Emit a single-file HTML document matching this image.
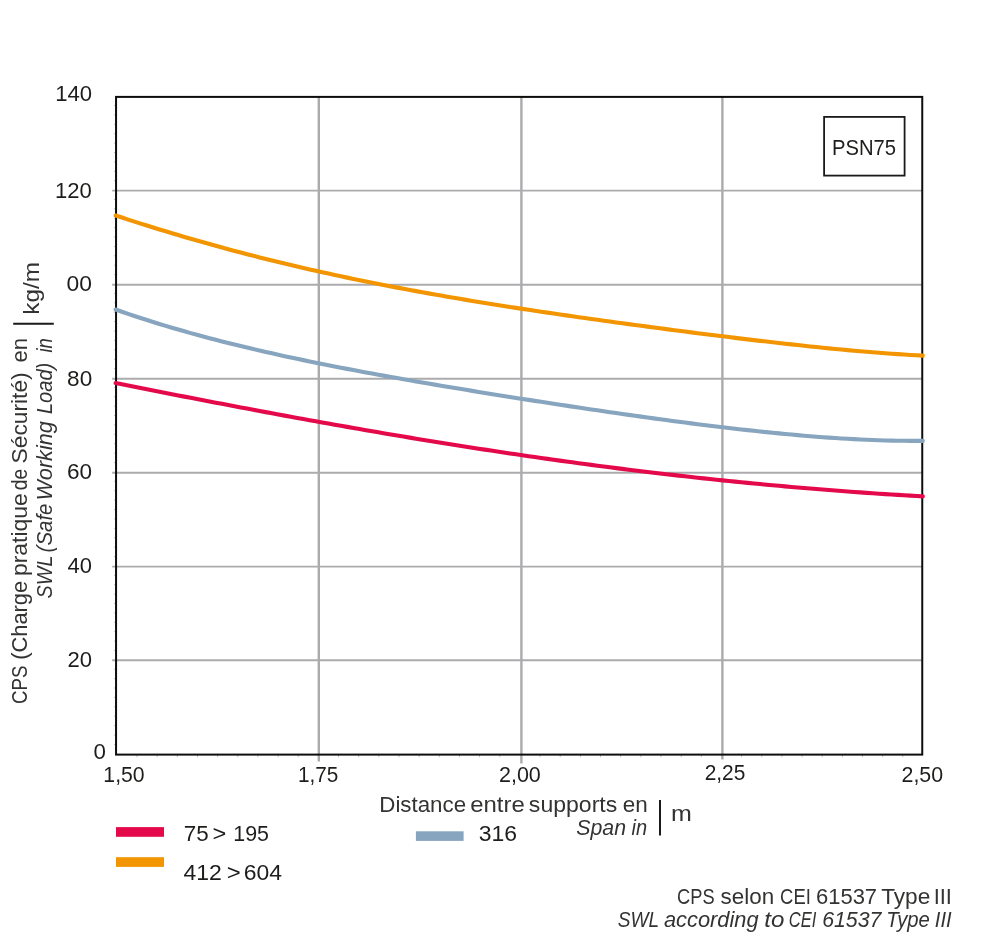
<!DOCTYPE html>
<html lang="fr"><head><meta charset="utf-8"><title>PSN75 - CPS selon CEI 61537</title>
<style>
html,body{margin:0;padding:0;background:#fff;}
body{width:1000px;height:945px;overflow:hidden;}
svg{display:block;}
text{font-family:"Liberation Sans",sans-serif;fill:#1d1d1b;}
.it{font-style:italic;}
.lt{fill:#333332;}
</style></head><body>
<svg width="1000" height="945" viewBox="0 0 1000 945">
<rect x="0" y="0" width="1000" height="945" fill="#ffffff"/>
<g stroke="#abaaad" fill="none">
<line x1="112.2" y1="660.3" x2="922.2" y2="660.3" stroke-width="1.9"/>
<line x1="112.2" y1="566.6" x2="922.2" y2="566.6" stroke-width="1.9"/>
<line x1="112.2" y1="472.7" x2="922.2" y2="472.7" stroke-width="1.9"/>
<line x1="112.2" y1="378.8" x2="922.2" y2="378.8" stroke-width="1.9"/>
<line x1="112.2" y1="284.8" x2="922.2" y2="284.8" stroke-width="1.9"/>
<line x1="112.2" y1="190.6" x2="922.2" y2="190.6" stroke-width="1.9"/>
<line x1="318.8" y1="96.9" x2="318.8" y2="761.4" stroke-width="2.4"/>
<line x1="521.4" y1="96.9" x2="521.4" y2="763.4" stroke-width="2.4"/>
<line x1="722.4" y1="96.9" x2="722.4" y2="759.6" stroke-width="2.4"/>
</g>
<g stroke="#9c9c9c" stroke-width="0.8" opacity="0.8">
<line x1="114" y1="744.4" x2="116" y2="744.4"/>
<line x1="114" y1="735.0" x2="116" y2="735.0"/>
<line x1="114" y1="725.6" x2="116" y2="725.6"/>
<line x1="114" y1="716.2" x2="116" y2="716.2"/>
<line x1="114" y1="706.8" x2="116" y2="706.8"/>
<line x1="114" y1="697.4" x2="116" y2="697.4"/>
<line x1="114" y1="688.0" x2="116" y2="688.0"/>
<line x1="114" y1="678.6" x2="116" y2="678.6"/>
<line x1="114" y1="669.2" x2="116" y2="669.2"/>
<line x1="114" y1="650.4" x2="116" y2="650.4"/>
<line x1="114" y1="641.1" x2="116" y2="641.1"/>
<line x1="114" y1="631.7" x2="116" y2="631.7"/>
<line x1="114" y1="622.3" x2="116" y2="622.3"/>
<line x1="114" y1="612.9" x2="116" y2="612.9"/>
<line x1="114" y1="603.5" x2="116" y2="603.5"/>
<line x1="114" y1="594.1" x2="116" y2="594.1"/>
<line x1="114" y1="584.7" x2="116" y2="584.7"/>
<line x1="114" y1="575.3" x2="116" y2="575.3"/>
<line x1="114" y1="556.5" x2="116" y2="556.5"/>
<line x1="114" y1="547.1" x2="116" y2="547.1"/>
<line x1="114" y1="537.7" x2="116" y2="537.7"/>
<line x1="114" y1="528.3" x2="116" y2="528.3"/>
<line x1="114" y1="518.9" x2="116" y2="518.9"/>
<line x1="114" y1="509.5" x2="116" y2="509.5"/>
<line x1="114" y1="500.1" x2="116" y2="500.1"/>
<line x1="114" y1="490.7" x2="116" y2="490.7"/>
<line x1="114" y1="481.3" x2="116" y2="481.3"/>
<line x1="114" y1="462.5" x2="116" y2="462.5"/>
<line x1="114" y1="453.1" x2="116" y2="453.1"/>
<line x1="114" y1="443.7" x2="116" y2="443.7"/>
<line x1="114" y1="434.3" x2="116" y2="434.3"/>
<line x1="114" y1="424.9" x2="116" y2="424.9"/>
<line x1="114" y1="415.6" x2="116" y2="415.6"/>
<line x1="114" y1="406.2" x2="116" y2="406.2"/>
<line x1="114" y1="396.8" x2="116" y2="396.8"/>
<line x1="114" y1="387.4" x2="116" y2="387.4"/>
<line x1="114" y1="368.6" x2="116" y2="368.6"/>
<line x1="114" y1="359.2" x2="116" y2="359.2"/>
<line x1="114" y1="349.8" x2="116" y2="349.8"/>
<line x1="114" y1="340.4" x2="116" y2="340.4"/>
<line x1="114" y1="331.0" x2="116" y2="331.0"/>
<line x1="114" y1="321.6" x2="116" y2="321.6"/>
<line x1="114" y1="312.2" x2="116" y2="312.2"/>
<line x1="114" y1="302.8" x2="116" y2="302.8"/>
<line x1="114" y1="293.4" x2="116" y2="293.4"/>
<line x1="114" y1="274.6" x2="116" y2="274.6"/>
<line x1="114" y1="265.2" x2="116" y2="265.2"/>
<line x1="114" y1="255.8" x2="116" y2="255.8"/>
<line x1="114" y1="246.4" x2="116" y2="246.4"/>
<line x1="114" y1="237.0" x2="116" y2="237.0"/>
<line x1="114" y1="227.6" x2="116" y2="227.6"/>
<line x1="114" y1="218.2" x2="116" y2="218.2"/>
<line x1="114" y1="208.8" x2="116" y2="208.8"/>
<line x1="114" y1="199.5" x2="116" y2="199.5"/>
<line x1="114" y1="180.7" x2="116" y2="180.7"/>
<line x1="114" y1="171.3" x2="116" y2="171.3"/>
<line x1="114" y1="161.9" x2="116" y2="161.9"/>
<line x1="114" y1="152.5" x2="116" y2="152.5"/>
<line x1="114" y1="143.1" x2="116" y2="143.1"/>
<line x1="114" y1="133.7" x2="116" y2="133.7"/>
<line x1="114" y1="124.3" x2="116" y2="124.3"/>
<line x1="114" y1="114.9" x2="116" y2="114.9"/>
<line x1="114" y1="105.5" x2="116" y2="105.5"/>
<line x1="137.0" y1="754.6" x2="137.0" y2="757.2"/>
<line x1="157.2" y1="754.6" x2="157.2" y2="757.2"/>
<line x1="177.3" y1="754.6" x2="177.3" y2="757.2"/>
<line x1="197.5" y1="754.6" x2="197.5" y2="757.2"/>
<line x1="217.6" y1="754.6" x2="217.6" y2="757.2"/>
<line x1="237.8" y1="754.6" x2="237.8" y2="757.2"/>
<line x1="257.9" y1="754.6" x2="257.9" y2="757.2"/>
<line x1="278.1" y1="754.6" x2="278.1" y2="757.2"/>
<line x1="298.2" y1="754.6" x2="298.2" y2="757.2"/>
<line x1="338.5" y1="754.6" x2="338.5" y2="757.2"/>
<line x1="358.7" y1="754.6" x2="358.7" y2="757.2"/>
<line x1="378.8" y1="754.6" x2="378.8" y2="757.2"/>
<line x1="399.0" y1="754.6" x2="399.0" y2="757.2"/>
<line x1="419.2" y1="754.6" x2="419.2" y2="757.2"/>
<line x1="439.3" y1="754.6" x2="439.3" y2="757.2"/>
<line x1="459.5" y1="754.6" x2="459.5" y2="757.2"/>
<line x1="479.6" y1="754.6" x2="479.6" y2="757.2"/>
<line x1="499.8" y1="754.6" x2="499.8" y2="757.2"/>
<line x1="540.1" y1="754.6" x2="540.1" y2="757.2"/>
<line x1="560.2" y1="754.6" x2="560.2" y2="757.2"/>
<line x1="580.4" y1="754.6" x2="580.4" y2="757.2"/>
<line x1="600.5" y1="754.6" x2="600.5" y2="757.2"/>
<line x1="620.7" y1="754.6" x2="620.7" y2="757.2"/>
<line x1="640.8" y1="754.6" x2="640.8" y2="757.2"/>
<line x1="661.0" y1="754.6" x2="661.0" y2="757.2"/>
<line x1="681.2" y1="754.6" x2="681.2" y2="757.2"/>
<line x1="701.3" y1="754.6" x2="701.3" y2="757.2"/>
<line x1="741.6" y1="754.6" x2="741.6" y2="757.2"/>
<line x1="761.8" y1="754.6" x2="761.8" y2="757.2"/>
<line x1="781.9" y1="754.6" x2="781.9" y2="757.2"/>
<line x1="802.1" y1="754.6" x2="802.1" y2="757.2"/>
<line x1="822.2" y1="754.6" x2="822.2" y2="757.2"/>
<line x1="842.4" y1="754.6" x2="842.4" y2="757.2"/>
<line x1="862.5" y1="754.6" x2="862.5" y2="757.2"/>
<line x1="882.7" y1="754.6" x2="882.7" y2="757.2"/>
<line x1="902.8" y1="754.6" x2="902.8" y2="757.2"/>
</g>
<rect x="116.05" y="96.9" width="806.2" height="657.7" fill="none" stroke="#0d0d0c" stroke-width="2"/>
<path d="M115.6,215.52 L121.9,217.57 L128.1,219.59 L134.4,221.60 L140.6,223.59 L146.9,225.55 L153.1,227.50 L159.4,229.43 L165.7,231.33 L171.9,233.22 L178.2,235.08 L184.4,236.92 L190.7,238.75 L196.9,240.55 L203.2,242.33 L209.5,244.09 L215.7,245.82 L222.0,247.54 L228.2,249.24 L234.5,250.91 L240.7,252.57 L247.0,254.20 L253.3,255.81 L259.5,257.40 L265.8,258.98 L272.0,260.53 L278.3,262.06 L284.5,263.57 L290.8,265.06 L297.1,266.53 L303.3,267.99 L309.6,269.42 L315.8,270.84 L322.1,272.23 L328.4,273.61 L334.6,274.97 L340.9,276.31 L347.1,277.63 L353.4,278.94 L359.6,280.23 L365.9,281.50 L372.2,282.76 L378.4,284.00 L384.7,285.23 L390.9,286.44 L397.2,287.63 L403.4,288.81 L409.7,289.97 L416.0,291.13 L422.2,292.26 L428.5,293.39 L434.7,294.50 L441.0,295.59 L447.2,296.68 L453.5,297.75 L459.8,298.81 L466.0,299.86 L472.3,300.90 L478.5,301.93 L484.8,302.95 L491.0,303.96 L497.3,304.95 L503.6,305.94 L509.8,306.92 L516.1,307.89 L522.3,308.85 L528.6,309.81 L534.8,310.75 L541.1,311.69 L547.4,312.62 L553.6,313.54 L559.9,314.46 L566.1,315.37 L572.4,316.27 L578.6,317.16 L584.9,318.05 L591.2,318.94 L597.4,319.82 L603.7,320.69 L609.9,321.56 L616.2,322.42 L622.4,323.28 L628.7,324.13 L635.0,324.97 L641.2,325.82 L647.5,326.65 L653.7,327.49 L660.0,328.31 L666.2,329.14 L672.5,329.95 L678.8,330.77 L685.0,331.57 L691.3,332.38 L697.5,333.17 L703.8,333.97 L710.0,334.75 L716.3,335.54 L722.6,336.31 L728.8,337.08 L735.1,337.85 L741.3,338.61 L747.6,339.36 L753.9,340.10 L760.1,340.84 L766.4,341.57 L772.6,342.29 L778.9,343.00 L785.1,343.70 L791.4,344.40 L797.7,345.08 L803.9,345.76 L810.2,346.42 L816.4,347.07 L822.7,347.71 L828.9,348.34 L835.2,348.95 L841.5,349.55 L847.7,350.13 L854.0,350.70 L860.2,351.25 L866.5,351.78 L872.7,352.30 L879.0,352.79 L885.3,353.27 L891.5,353.72 L897.8,354.15 L904.0,354.56 L910.3,354.94 L916.5,355.30 L922.8,355.63" fill="none" stroke="#f29500" stroke-width="4.1" stroke-linejoin="round" stroke-linecap="round"/>
<path d="M115.6,309.56 L121.9,311.75 L128.1,313.89 L134.4,315.98 L140.6,318.04 L146.9,320.05 L153.1,322.02 L159.4,323.96 L165.7,325.86 L171.9,327.72 L178.2,329.55 L184.4,331.34 L190.7,333.10 L196.9,334.82 L203.2,336.52 L209.5,338.18 L215.7,339.82 L222.0,341.43 L228.2,343.01 L234.5,344.56 L240.7,346.09 L247.0,347.59 L253.3,349.07 L259.5,350.52 L265.8,351.96 L272.0,353.37 L278.3,354.76 L284.5,356.13 L290.8,357.48 L297.1,358.81 L303.3,360.13 L309.6,361.42 L315.8,362.70 L322.1,363.97 L328.4,365.22 L334.6,366.45 L340.9,367.67 L347.1,368.88 L353.4,370.07 L359.6,371.25 L365.9,372.42 L372.2,373.58 L378.4,374.72 L384.7,375.86 L390.9,376.99 L397.2,378.10 L403.4,379.21 L409.7,380.31 L416.0,381.40 L422.2,382.48 L428.5,383.55 L434.7,384.62 L441.0,385.68 L447.2,386.73 L453.5,387.78 L459.8,388.81 L466.0,389.85 L472.3,390.87 L478.5,391.90 L484.8,392.91 L491.0,393.92 L497.3,394.93 L503.6,395.93 L509.8,396.92 L516.1,397.91 L522.3,398.90 L528.6,399.88 L534.8,400.85 L541.1,401.82 L547.4,402.79 L553.6,403.75 L559.9,404.70 L566.1,405.65 L572.4,406.60 L578.6,407.54 L584.9,408.48 L591.2,409.41 L597.4,410.33 L603.7,411.25 L609.9,412.16 L616.2,413.07 L622.4,413.97 L628.7,414.86 L635.0,415.75 L641.2,416.63 L647.5,417.50 L653.7,418.37 L660.0,419.22 L666.2,420.07 L672.5,420.91 L678.8,421.74 L685.0,422.56 L691.3,423.37 L697.5,424.17 L703.8,424.96 L710.0,425.74 L716.3,426.51 L722.6,427.26 L728.8,428.00 L735.1,428.73 L741.3,429.45 L747.6,430.15 L753.9,430.83 L760.1,431.50 L766.4,432.15 L772.6,432.79 L778.9,433.40 L785.1,434.00 L791.4,434.58 L797.7,435.14 L803.9,435.68 L810.2,436.20 L816.4,436.69 L822.7,437.17 L828.9,437.62 L835.2,438.04 L841.5,438.44 L847.7,438.81 L854.0,439.16 L860.2,439.47 L866.5,439.76 L872.7,440.02 L879.0,440.25 L885.3,440.44 L891.5,440.60 L897.8,440.73 L904.0,440.82 L910.3,440.88 L916.5,440.90 L922.8,440.88" fill="none" stroke="#87a5be" stroke-width="4.1" stroke-linejoin="round" stroke-linecap="round"/>
<path d="M115.6,383.09 L121.9,384.33 L128.1,385.57 L134.4,386.81 L140.6,388.04 L146.9,389.28 L153.1,390.51 L159.4,391.73 L165.7,392.96 L171.9,394.18 L178.2,395.40 L184.4,396.62 L190.7,397.83 L196.9,399.04 L203.2,400.25 L209.5,401.45 L215.7,402.65 L222.0,403.85 L228.2,405.05 L234.5,406.24 L240.7,407.42 L247.0,408.60 L253.3,409.78 L259.5,410.95 L265.8,412.12 L272.0,413.29 L278.3,414.45 L284.5,415.61 L290.8,416.76 L297.1,417.90 L303.3,419.05 L309.6,420.18 L315.8,421.31 L322.1,422.44 L328.4,423.56 L334.6,424.68 L340.9,425.79 L347.1,426.89 L353.4,427.99 L359.6,429.08 L365.9,430.17 L372.2,431.25 L378.4,432.33 L384.7,433.40 L390.9,434.46 L397.2,435.52 L403.4,436.57 L409.7,437.62 L416.0,438.66 L422.2,439.69 L428.5,440.71 L434.7,441.73 L441.0,442.75 L447.2,443.75 L453.5,444.75 L459.8,445.74 L466.0,446.73 L472.3,447.70 L478.5,448.67 L484.8,449.64 L491.0,450.59 L497.3,451.54 L503.6,452.48 L509.8,453.42 L516.1,454.34 L522.3,455.26 L528.6,456.17 L534.8,457.08 L541.1,457.97 L547.4,458.86 L553.6,459.74 L559.9,460.61 L566.1,461.48 L572.4,462.33 L578.6,463.18 L584.9,464.02 L591.2,464.85 L597.4,465.68 L603.7,466.49 L609.9,467.30 L616.2,468.10 L622.4,468.89 L628.7,469.67 L635.0,470.44 L641.2,471.21 L647.5,471.96 L653.7,472.71 L660.0,473.45 L666.2,474.18 L672.5,474.90 L678.8,475.62 L685.0,476.32 L691.3,477.02 L697.5,477.70 L703.8,478.38 L710.0,479.05 L716.3,479.71 L722.6,480.36 L728.8,481.01 L735.1,481.64 L741.3,482.26 L747.6,482.88 L753.9,483.49 L760.1,484.08 L766.4,484.67 L772.6,485.25 L778.9,485.82 L785.1,486.38 L791.4,486.93 L797.7,487.48 L803.9,488.01 L810.2,488.53 L816.4,489.05 L822.7,489.56 L828.9,490.05 L835.2,490.54 L841.5,491.02 L847.7,491.49 L854.0,491.95 L860.2,492.40 L866.5,492.84 L872.7,493.27 L879.0,493.69 L885.3,494.11 L891.5,494.51 L897.8,494.91 L904.0,495.29 L910.3,495.67 L916.5,496.04 L922.8,496.40" fill="none" stroke="#e4094a" stroke-width="4.1" stroke-linejoin="round" stroke-linecap="round"/>
<rect x="824.1" y="116.9" width="80.5" height="58.7" fill="#fff" stroke="#1a1a18" stroke-width="1.8"/>
<text id="psn" y="154.8" font-size="21.8"><tspan x="832.02" textLength="64.06" lengthAdjust="spacingAndGlyphs">PSN75</tspan></text>
<text id="t1" class="yt" y="101.4" font-size="21.8"><tspan x="55.22" textLength="36.87" lengthAdjust="spacingAndGlyphs">140</tspan></text>
<text id="t2" class="yt" y="197.6" font-size="21.8"><tspan x="55.04" textLength="36.75" lengthAdjust="spacingAndGlyphs">120</tspan></text>
<text id="t3" class="yt" y="291.0" font-size="21.8"><tspan x="66.62" textLength="25.43" lengthAdjust="spacingAndGlyphs">00</tspan></text>
<text id="t4" class="yt" y="386.1" font-size="21.8"><tspan x="67.12" textLength="25.06" lengthAdjust="spacingAndGlyphs">80</tspan></text>
<text id="t5" class="yt" y="479.2" font-size="21.8"><tspan x="66.92" textLength="25.05" lengthAdjust="spacingAndGlyphs">60</tspan></text>
<text id="t6" class="yt" y="572.8" font-size="21.8"><tspan x="67.63" textLength="24.43" lengthAdjust="spacingAndGlyphs">40</tspan></text>
<text id="t7" class="yt" y="666.9" font-size="21.8"><tspan x="67.44" textLength="24.56" lengthAdjust="spacingAndGlyphs">20</tspan></text>
<text id="t8" class="yt" y="758.6" font-size="21.8"><tspan x="93.61" textLength="12.41" lengthAdjust="spacingAndGlyphs">0</tspan></text>
<text id="t9" class="xt" y="782.2" font-size="21.8"><tspan x="103.37" textLength="41.33" lengthAdjust="spacingAndGlyphs">1,50</tspan></text>
<text id="t10" class="xt" y="782.2" font-size="21.8"><tspan x="297.97" textLength="40.42" lengthAdjust="spacingAndGlyphs">1,75</tspan></text>
<text id="t11" class="xt" y="782.2" font-size="21.8"><tspan x="499.01" textLength="41.84" lengthAdjust="spacingAndGlyphs">2,00</tspan></text>
<text id="t12" class="xt" y="780.2" font-size="21.8"><tspan x="704.63" textLength="40.70" lengthAdjust="spacingAndGlyphs">2,25</tspan></text>
<text id="t13" class="xt" y="782.2" font-size="21.8"><tspan x="901.50" textLength="41.63" lengthAdjust="spacingAndGlyphs">2,50</tspan></text>
<text id="xt1" class="lt" y="811.5" font-size="21.8"><tspan x="379.28" textLength="86.81" lengthAdjust="spacingAndGlyphs">Distance</tspan> <tspan x="470.19" textLength="54.53" lengthAdjust="spacingAndGlyphs">entre</tspan> <tspan x="528.87" textLength="88.38" lengthAdjust="spacingAndGlyphs">supports</tspan> <tspan x="622.66" textLength="24.95" lengthAdjust="spacingAndGlyphs">en</tspan></text>
<text id="xt2" class="lt it" y="835.3" font-size="21.8"><tspan x="576.28" textLength="49.74" lengthAdjust="spacingAndGlyphs">Span</tspan> <tspan x="631.60" textLength="15.61" lengthAdjust="spacingAndGlyphs">in</tspan></text>
<line x1="660" y1="799.9" x2="660" y2="835.6" stroke="#1a1a18" stroke-width="2"/>
<text id="xm" class="lt" y="821.2" font-size="21.8"><tspan x="671.02" textLength="20.85" lengthAdjust="spacingAndGlyphs">m</tspan></text>
<rect x="116" y="827.1" width="48" height="9.7" fill="#e4094a"/>
<rect x="116" y="857.2" width="48" height="9.7" fill="#f29500"/>
<rect x="415.9" y="831.3" width="47.7" height="9.6" fill="#87a5be"/>
<text id="l1" y="840.8" font-size="21.8"><tspan x="183.87" textLength="24.93" lengthAdjust="spacingAndGlyphs">75</tspan> <tspan x="212.41" textLength="13.74" lengthAdjust="spacingAndGlyphs">&gt;</tspan> <tspan x="233.31" textLength="35.74" lengthAdjust="spacingAndGlyphs">195</tspan></text>
<text id="l2" y="880.4" font-size="21.8"><tspan x="183.41" textLength="38.35" lengthAdjust="spacingAndGlyphs">412</tspan> <tspan x="226.65" textLength="13.96" lengthAdjust="spacingAndGlyphs">&gt;</tspan> <tspan x="243.83" textLength="38.22" lengthAdjust="spacingAndGlyphs">604</tspan></text>
<text id="l3" y="841.3" font-size="21.8"><tspan x="478.80" textLength="38.30" lengthAdjust="spacingAndGlyphs">316</tspan></text>
<text id="f1" class="lt" y="903.5" font-size="21.8"><tspan x="677.01" textLength="37.58" lengthAdjust="spacingAndGlyphs">CPS</tspan> <tspan x="720.57" textLength="53.52" lengthAdjust="spacingAndGlyphs">selon</tspan> <tspan x="780.11" textLength="30.72" lengthAdjust="spacingAndGlyphs">CEI</tspan> <tspan x="815.96" textLength="61.14" lengthAdjust="spacingAndGlyphs">61537</tspan> <tspan x="881.20" textLength="49.09" lengthAdjust="spacingAndGlyphs">Type</tspan> <tspan x="933.69" textLength="18.24" lengthAdjust="spacingAndGlyphs">III</tspan></text>
<text id="f2" class="lt it" y="927.4" font-size="21.8"><tspan x="617.74" textLength="41.03" lengthAdjust="spacingAndGlyphs">SWL</tspan> <tspan x="663.94" textLength="94.59" lengthAdjust="spacingAndGlyphs">according</tspan> <tspan x="764.32" textLength="20.08" lengthAdjust="spacingAndGlyphs">to</tspan> <tspan x="788.76" textLength="27.49" lengthAdjust="spacingAndGlyphs">CEI</tspan> <tspan x="822.14" textLength="59.32" lengthAdjust="spacingAndGlyphs">61537</tspan> <tspan x="886.28" textLength="43.54" lengthAdjust="spacingAndGlyphs">Type</tspan> <tspan x="934.79" textLength="16.83" lengthAdjust="spacingAndGlyphs">III</tspan></text>
<text id="y1" class="lt" transform="rotate(-90)" y="27.3" font-size="21.8"><tspan x="-704.01" textLength="38.47" lengthAdjust="spacingAndGlyphs">CPS</tspan> <tspan x="-659.69" textLength="78.83" lengthAdjust="spacingAndGlyphs">(Charge</tspan> <tspan x="-576.06" textLength="82.90" lengthAdjust="spacingAndGlyphs">pratique</tspan> <tspan x="-490.27" textLength="21.39" lengthAdjust="spacingAndGlyphs">de</tspan> <tspan x="-463.46" textLength="91.12" lengthAdjust="spacingAndGlyphs">Sécurité)</tspan> <tspan x="-362.42" textLength="24.55" lengthAdjust="spacingAndGlyphs">en</tspan></text>
<text id="y2" class="lt it" transform="rotate(-90)" y="51.5" font-size="21.8"><tspan x="-598.46" textLength="42.61" lengthAdjust="spacingAndGlyphs">SWL</tspan> <tspan x="-552.40" textLength="48.90" lengthAdjust="spacingAndGlyphs">(Safe</tspan> <tspan x="-500.56" textLength="79.31" lengthAdjust="spacingAndGlyphs">Working</tspan> <tspan x="-414.08" textLength="51.39" lengthAdjust="spacingAndGlyphs">Load)</tspan> <tspan x="-352.62" textLength="14.34" lengthAdjust="spacingAndGlyphs">in</tspan></text>
<text id="y3" class="lt" transform="rotate(-90)" y="39.1" font-size="21.8"><tspan x="-314.71" textLength="52.79" lengthAdjust="spacingAndGlyphs">kg/m</tspan></text>
<line x1="13.2" y1="323.8" x2="53.8" y2="323.8" stroke="#1a1a18" stroke-width="2"/>
</svg>
</body></html>
